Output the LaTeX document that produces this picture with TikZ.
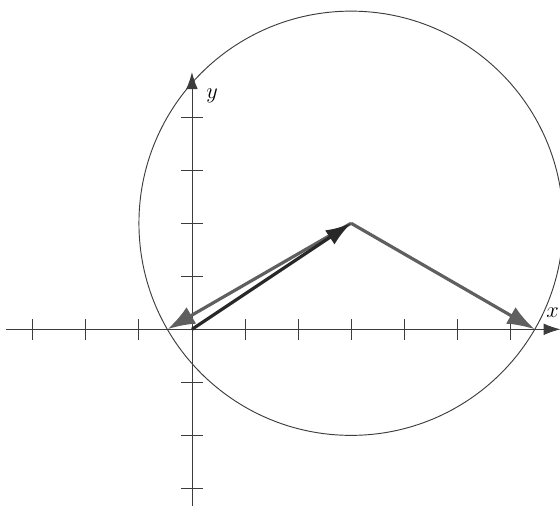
\documentclass[tikz,border=0pt]{standalone}
\usepackage{xcolor}
\usepackage{tikz}
\usetikzlibrary{arrows.meta}
\definecolor{AxisGray}{RGB}{60,60,60}
\definecolor{VecDark}{RGB}{40,40,40}
\definecolor{VecGray}{RGB}{95,95,95}

\begin{document}
\begin{tikzpicture}[
  every node/.style={font=\large},
  axis/.style={draw=AxisGray, line width=0.5pt, -{Latex[length=3.2mm,width=2.2mm]}},
  tick/.style={draw=AxisGray, line width=0.5pt},
  ring/.style={draw=AxisGray, line width=0.5pt},
  vecdark/.style={draw=VecDark, line width=1.7pt, -{Latex[length=4.8mm,width=3.2mm]}},
  vecgray/.style={draw=VecGray, line width=1.7pt, -{Latex[length=5.2mm,width=3.6mm]}}
]
\clip (-3.62,-3.32) rectangle (6.94,6.21);
\coordinate (xl) at (-3.5,0);
\coordinate (xr) at (6.95,0);
\coordinate (yb) at (0,-3.5);
\coordinate (yt) at (0,4.85);
\coordinate (O) at (0,0);
\coordinate (C) at (3,2);
\coordinate (A) at ({3-sqrt(12)},0);
\coordinate (B) at ({3+sqrt(12)},0);

\draw[axis] (xl) -- (xr);
\draw[axis] (yb) -- (yt);
\foreach \i in {-3,-2,-1,1,2,3,4,5,6} \draw[tick] (\i,-0.2) -- (\i,0.2);
\foreach \j in {-3,-2,-1,1,2,3,4} \draw[tick] (-0.2,\j) -- (0.2,\j);
\node (ylab) at (0.38,4.4) {$y$};
\node (xlab) at (6.8,0.32) {$x$};

\draw[ring] (C) circle (4);

\draw[vecgray] (C) -- (A);
\draw[vecgray] (C) -- (B);
\draw[vecdark] (O) -- (C);
\end{tikzpicture}
\end{document}
